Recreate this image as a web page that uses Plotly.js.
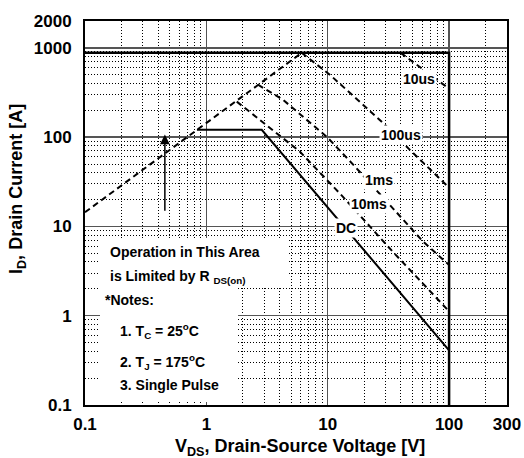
<!DOCTYPE html>
<html><head><meta charset="utf-8">
<script src="https://cdn.plot.ly/plotly-3.0.1.min.js"></script>
<style>html,body{margin:0;padding:0;background:#fff}#chart{width:524px;height:458px}</style>
</head><body><div id="chart"></div>
<script>
// ---- tick labels ----
const xTickVals = [0.1, 1, 10, 100, 300];
const xTickText = ['0.1', '1', '10', '100', '300'];
const yTickVals = [0.1, 1, 10, 100, 1000, 2000];
const yTickText = ['0.1', '1', '10', '100', '1000', '2000'];

// ---- SOA curves (V, A) ----
const rdsV = [0.1, 6.1];
const rdsI = [14.4, 880];
const limitV = [0.1, 100, 100];
const limitI = [880, 880, 0.1];
const us10V = [39.9, 100];
const us10I = [880, 349];
const us100V = [6.1, 10.4, 27.7, 47.3, 100];
const us100I = [880, 501, 150, 72.5, 27.2];
const ms1V = [2.66, 4.27, 10, 16.7, 60.8, 100];
const ms1I = [387, 263, 98.7, 47.1, 6.8, 3.7];
const ms10V = [1.78, 5.89, 13.3, 19.1, 34.3, 100];
const ms10I = [250, 68.9, 21.6, 12.6, 5.22, 1.12];
const dcV = [0.836, 2.86, 100];
const dcI = [121, 121, 0.41];

// ---- curve labels ----
const curveLabels = ['10us', '100us', '1ms', '10ms', 'DC'];
const labelV = [56.1, 40.3, 26.3, 21.7, 14.1];
const labelI = [452, 107, 33.4, 18.0, 9.7];

// ---- arrow (RDS(on) limited region) ----
const arrowV = 0.455;
const arrowI = [11.6, 107];

// ---- notes text ----
const notesLines = [
  'Operation in This Area',
  'is Limited by R <sub>DS(on)</sub>',
  '*Notes:',
  '1. T<sub>C</sub> = 25<sup>o</sup>C',
  '2. T<sub>J</sub> = 175<sup>o</sup>C',
  '3. Single Pulse'
];
const xTitle = 'V<sub>DS</sub>, Drain-Source Voltage [V]';
const yTitle = 'I<sub>D</sub>, Drain Current [A]';

// ---- layout helpers (pixel -> paper) ----
const W = 524, H = 458, PL = 85, PR = 507, PT = 21, PB = 405;
const px = x => (x - PL) / (PR - PL);
const py = y => (PB - y) / (PB - PT);
const FONT = 'Liberation Sans, Arial, Helvetica, sans-serif';

function minorVals(lo, hi) {
  const out = [];
  for (let e = lo; e < hi; e++) for (let m = 2; m <= 9; m++) out.push(m * Math.pow(10, e));
  return out;
}

const dashStyle = '6px,4px';
function curve(v, i, dash, width) {
  return {x: v, y: i, type: 'scatter', mode: 'lines', hoverinfo: 'skip', showlegend: false,
    line: {color: '#000', width: width, dash: dash}};
}
const traces = [
  curve(rdsV, rdsI, dashStyle, 2),
  curve(us10V, us10I, dashStyle, 2),
  curve(us100V, us100I, dashStyle, 2),
  curve(ms1V, ms1I, dashStyle, 2),
  curve(ms10V, ms10I, dashStyle, 2),
  curve(dcV, dcI, 'solid', 2),
  curve(limitV, limitI, 'solid', 2.5)
];

const annotations = [];
curveLabels.forEach((t, k) => annotations.push({
  x: Math.log10(labelV[k]), y: Math.log10(labelI[k]), xref: 'x', yref: 'y',
  text: t, showarrow: false, bgcolor: '#fff', borderpad: 1,
  font: {family: FONT, size: 14, color: '#000', weight: 'bold'}
}));

const noteX = [108, 108, 103, 118, 118, 118];
const noteY = [252, 277, 300, 331, 362, 385];
notesLines.forEach((t, k) => annotations.push({
  x: px(noteX[k]), y: py(noteY[k]), xref: 'paper', yref: 'paper',
  xanchor: 'left', yanchor: 'middle', text: t, showarrow: false, align: 'left',
  font: {family: FONT, size: 14, color: '#000', weight: 'bold'}
}));

annotations.push({
  x: Math.log10(arrowV), y: Math.log10(arrowI[1]), ax: Math.log10(arrowV), ay: Math.log10(arrowI[0]),
  xref: 'x', yref: 'y', axref: 'x', ayref: 'y', text: ' ', showarrow: true,
  arrowhead: 2, arrowsize: 1.3, arrowwidth: 1.5, arrowcolor: '#000', standoff: 0
});

annotations.push({
  x: px(299.5), y: py(447), xref: 'paper', yref: 'paper', xanchor: 'center', yanchor: 'middle',
  text: xTitle, showarrow: false, font: {family: FONT, size: 18, color: '#000', weight: 'bold'}
});
annotations.push({
  x: px(17), y: py(189), xref: 'paper', yref: 'paper', xanchor: 'center', yanchor: 'middle',
  text: yTitle, textangle: -90, showarrow: false, font: {family: FONT, size: 18, color: '#000', weight: 'bold'}
});

const axisCommon = {
  type: 'log', showline: true, mirror: true, linecolor: '#000', linewidth: 2,
  showgrid: true, gridcolor: '#555', gridwidth: 1.5, zeroline: false, ticks: '',
  tickmode: 'array', tickfont: {family: FONT, size: 17, color: '#000', weight: 'bold'}
};
const minorGrid = {tickmode: 'array', tickvals: minorVals(-1, 3), showgrid: true,
  gridcolor: '#000', gridwidth: 1, griddash: '1px,2px'};

const layout = {
  width: W, height: H,
  margin: {l: PL, r: W - PR, t: PT, b: H - PB, pad: 0},
  paper_bgcolor: '#fff', plot_bgcolor: '#fff',
  showlegend: false,
  xaxis: Object.assign({}, axisCommon, {
    range: [-1, Math.log10(300)], tickvals: xTickVals, ticktext: xTickText, ticklabelstandoff: 3,
    minor: minorGrid
  }),
  yaxis: Object.assign({}, axisCommon, {
    range: [-1, Math.log10(2000)], tickvals: yTickVals, ticktext: yTickText, ticklabelstandoff: 8,
    minor: minorGrid
  }),
  shapes: [
    {type: 'rect', xref: 'paper', yref: 'paper', x0: px(100), x1: px(287), y0: py(287), y1: py(238),
      fillcolor: '#fff', line: {width: 0}, layer: 'above'},
    {type: 'rect', xref: 'paper', yref: 'paper', x0: px(100), x1: px(238), y0: py(402), y1: py(287),
      fillcolor: '#fff', line: {width: 0}, layer: 'above'}
  ],
  annotations: annotations
};

Plotly.newPlot('chart', traces, layout, {displayModeBar: false, staticPlot: true});
</script>
</body></html>
